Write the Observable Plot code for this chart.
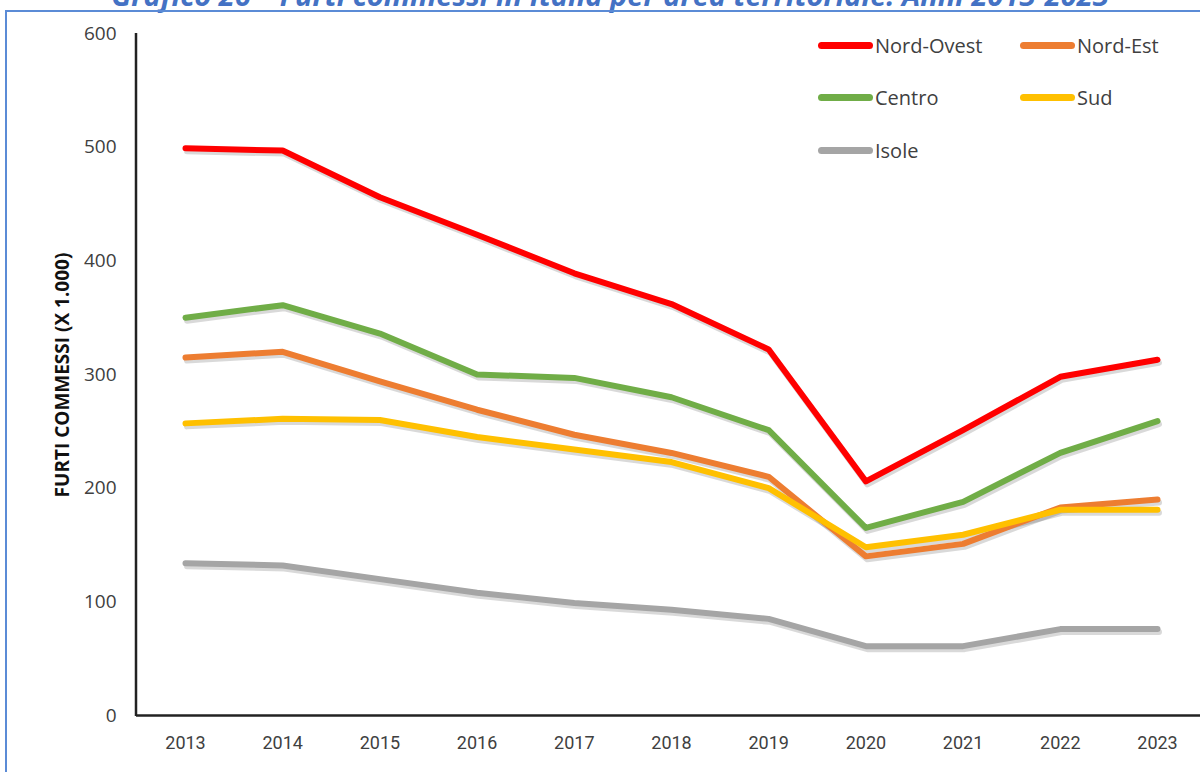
<!DOCTYPE html>
<html>
<head>
<meta charset="utf-8">
<script src="https://cdn.jsdelivr.net/npm/d3@7"></script>
<script src="https://cdn.jsdelivr.net/npm/@observablehq/plot@0.6"></script>
<style>
  html, body { margin: 0; padding: 0; background: #fff; overflow: hidden; }
  #wrap { position: relative; width: 1200px; height: 772px; overflow: hidden; }
  #title { position: absolute; left: 0; width: 1220px; top: -25px; text-align: center;
    font-family: "Open Sans", sans-serif; font-weight: bold; font-style: italic; font-size: 29px; color: #4472C4; white-space: nowrap; }
  #frame { position: absolute; left: 5px; top: 10px; width: 1300px; height: 900px; border: 2px solid #5B8BD6; box-sizing: border-box; }
  #chart { position: absolute; left: 0; top: 0; }
  #legend { position: absolute; left: 0; top: 0; font-family: "Open Sans", sans-serif; font-size: 20px; color: #404040; }
  .item { position: absolute; display: flex; align-items: center; white-space: nowrap; }
  .sw { width: 55px; height: 7px; border-radius: 4px; margin-right: 2px; }
</style>
</head>
<body>
<div id="wrap">
  <div id="title">Grafico 26 – Furti commessi in Italia per area territoriale. Anni 2013-2023</div>
  <div id="frame"></div>
  <div id="chart"></div>
  <div id="legend"></div>
</div>
<script>
const years = [2013, 2014, 2015, 2016, 2017, 2018, 2019, 2020, 2021, 2022, 2023];
const areas = ["Nord-Ovest", "Nord-Est", "Centro", "Sud", "Isole"];
const colors = ["#FF0000", "#ED7D31", "#70AD47", "#FFC000", "#A5A5A5"];
const nordOvest = [499, 497, 456, 423, 389, 362, 322, 206, 251, 298, 313];
const nordEst   = [315, 320, 294, 269, 247, 231, 210, 140, 151, 183, 190];
const centro    = [350, 361, 336, 300, 297, 280, 251, 165, 188, 231, 259];
const sud       = [257, 261, 260, 245, 234, 223, 200, 148, 159, 181, 181];
const isole     = [134, 132, 120, 108,  99,  93,  85,  61,  61,  76,  76];
const yTicks = [0, 100, 200, 300, 400, 500, 600];
const yLabel = "FURTI COMMESSI (X 1.000)";

const seriesValues = [nordOvest, nordEst, centro, sud, isole];
const data = [];
areas.forEach((a, i) => years.forEach((y, j) => data.push({area: a, year: y, value: seriesValues[i][j]})));

const drawOrder = ["Isole", "Nord-Est", "Sud", "Centro", "Nord-Ovest"];

const plot = Plot.plot({
  width: 1200,
  height: 772,
  marginTop: 33,
  marginBottom: 57,
  marginLeft: 136,
  marginRight: 0,
  style: {background: "transparent", overflow: "visible"},
  x: {type: "linear", domain: [2013, 2023], range: [185, 1157], label: null},
  y: {domain: [0, 600], label: null},
  color: {domain: areas, range: colors},
  marks: [
    Plot.axisX({ticks: years, tickFormat: d => String(d), tickSize: 0, tickPadding: 21, fontSize: 18,
      fontFamily: "Liberation Sans Narrow, Roboto, sans-serif", fill: "#404040", label: null}),
    Plot.axisY({ticks: yTicks, tickSize: 0, tickPadding: 20, fontSize: 19,
      fontFamily: "Open Sans, sans-serif", fill: "#404040", label: null}),
    Plot.ruleY([0], {stroke: "#222", strokeWidth: 2.5}),
    ...drawOrder.map(a => Plot.line(data.filter(d => d.area === a), {
      x: "year", y: "value", stroke: "#000", strokeOpacity: 0.15, strokeWidth: 6, dx: 1.5, dy: 3,
      strokeLinejoin: "round", strokeLinecap: "round"
    })),
    ...drawOrder.map(a => Plot.line(data.filter(d => d.area === a), {
      x: "year", y: "value", stroke: "area", strokeWidth: 6,
      strokeLinejoin: "round", strokeLinecap: "round"
    }))
  ]
});

const svg = d3.select(plot);
svg.append("line")
  .attr("x1", 136).attr("x2", 136).attr("y1", 33).attr("y2", 716)
  .attr("stroke", "#222").attr("stroke-width", 2.5);
svg.append("text")
  .attr("transform", "translate(69,375) rotate(-90)")
  .attr("text-anchor", "middle")
  .attr("font-family", "Liberation Sans Narrow, Open Sans, sans-serif")
  .attr("font-weight", "bold")
  .attr("font-size", 19)
  .attr("fill", "#111")
  .text(yLabel);

document.getElementById("chart").appendChild(plot);

const legendPos = [[818, 46], [1020, 46], [818, 98], [1020, 98], [818, 151]];
const leg = document.getElementById("legend");
areas.forEach((a, i) => {
  const it = document.createElement("div");
  it.className = "item";
  it.style.left = legendPos[i][0] + "px";
  it.style.top = (legendPos[i][1] - 14) + "px";
  it.innerHTML = `<span class="sw" style="background:${colors[i]}"></span><span>${a}</span>`;
  leg.appendChild(it);
});
</script>
</body>
</html>
